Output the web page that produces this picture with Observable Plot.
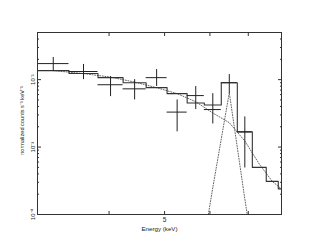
<!DOCTYPE html>
<html><head><meta charset="utf-8">
<script src="https://cdn.jsdelivr.net/npm/d3@7"></script>
<script src="https://cdn.jsdelivr.net/npm/@observablehq/plot@0.6"></script>
<style>body{margin:0;background:#fff}</style>
</head><body><div id="chart"></div>
<script>
// Energy bin edges (keV)
const edges = [3.0, 3.405, 3.826, 4.232, 4.643, 5.051, 5.475, 5.866, 6.280, 6.698, 7.115, 7.524, 7.897, 8.30];
// Total model (step histogram)
const model = [0.0136, 0.0123, 0.0107, 0.0090, 0.0076, 0.0062, 0.0045, 0.0042, 0.0090, 0.00168, 0.00050, 0.00031, 0.00024];
// Continuum component (dotted)
const continuum = [0.0136, 0.0123, 0.0109, 0.0092, 0.0076, 0.0062, 0.0047, 0.0032, 0.0023, 0.00123, 0.00056, 0.00031, 0.00022];
// Gaussian line component (dotted)
const gauss = [1e-9, 1e-9, 1e-9, 1e-9, 1e-9, 1e-7, 7.6e-6, 0.00025, 0.0064, 0.00017, 7e-6, 1e-8, 1e-9];
// Data points with error bars
const data  = [0.0173, 0.0132, 0.0084, 0.0073, 0.0107, 0.0033, 0.0058, 0.0036, 0.0090, 0.00168];
const errLo = [0.0132, 0.0100, 0.0056, 0.0050, 0.0079, 0.00168, 0.0036, 0.0022, 0.0062, 0.00049];
const errHi = [0.0213, 0.0168, 0.0111, 0.0100, 0.0141, 0.0050, 0.0079, 0.0062, 0.0119, 0.0028];
// Ticks
const xTicks = [4, 5, 6, 7];
const xLabels = [5];
const yMajor = [1e-4, 1e-3, 1e-2];
const yMinor = [2e-4,3e-4,4e-4,5e-4,6e-4,7e-4,8e-4,9e-4,2e-3,3e-3,4e-3,5e-3,6e-3,7e-3,8e-3,9e-3,2e-2,3e-2,4e-2,5e-2];
const xTitle = "Energy (keV)";
const yTitle = "normalized counts s⁻¹ keV⁻¹";

const centers = edges.slice(0, -1).map((e, i) => Math.sqrt(e * edges[i + 1]));
const bins = model.map((m, i) => ({xc: centers[i], cont: continuum[i], gauss: gauss[i]}));
const stepPts = edges.map((e, i) => ({x: e, y: model[Math.min(i, model.length - 1)]}));
const pts = data.map((v, i) => ({x1: edges[i], x2: edges[i + 1], xc: centers[i], y: v, lo: errLo[i], hi: errHi[i]}));

const sup = {"-": "⁻", "0": "⁰", "1": "¹", "2": "²", "3": "³", "4": "⁴", "5": "⁵"};
const fmt = d => "10" + String(Math.round(Math.log10(d))).split("").map(c => sup[c]).join("");
const font = "'Liberation Sans', Arial, sans-serif";
const ink = "#333";

const plot = Plot.plot({
  width: 319, height: 247,
  marginLeft: 37, marginRight: 38, marginTop: 32, marginBottom: 33,
  style: {fontFamily: font, background: "#fff", color: ink},
  x: {type: "log", domain: [3, 8], axis: null},
  y: {type: "log", domain: [1e-4, 0.05], axis: null},
  marks: [
    Plot.line(bins, {x: "xc", y: "gauss", stroke: "#666", strokeWidth: 1, strokeDasharray: "1,1.6", clip: true}),
    Plot.line(bins, {x: "xc", y: "cont", stroke: "#666", strokeWidth: 1, strokeDasharray: "1,1.6", clip: true}),
    Plot.line(stepPts, {x: "x", y: "y", curve: "step-after", stroke: ink, strokeWidth: 1.1, clip: true}),
    Plot.ruleX(pts, {x: "xc", y1: "lo", y2: "hi", stroke: "#222", strokeWidth: 1}),
    Plot.ruleY(pts, {y: "y", x1: "x1", x2: "x2", stroke: "#222", strokeWidth: 1}),
    Plot.frame({stroke: ink, strokeWidth: 1}),
    Plot.axisX(xTicks, {anchor: "bottom", tickSize: -3, tickFormat: () => "", label: null, stroke: ink}),
    Plot.axisX(xTicks, {anchor: "top", tickSize: -3, tickFormat: () => "", label: null, stroke: ink}),
    Plot.axisX(xLabels, {anchor: "bottom", tickSize: 0, tickPadding: 3, tickFormat: d => String(d), label: null, fontSize: 6.5, fill: "#222"}),
    Plot.axisY(yMajor, {anchor: "left", tickSize: -4, tickFormat: () => "", label: null, stroke: ink}),
    Plot.axisY(yMajor, {anchor: "right", tickSize: -4, tickFormat: () => "", label: null, stroke: ink}),
    Plot.axisY(yMinor, {anchor: "left", tickSize: -2, tickFormat: () => "", label: null, stroke: ink}),
    Plot.axisY(yMinor, {anchor: "right", tickSize: -2, tickFormat: () => "", label: null, stroke: ink}),
    Plot.text(yMajor, {y: d => d, frameAnchor: "left", dx: -3, rotate: -90, text: fmt, textAnchor: "middle", lineAnchor: "bottom", fontSize: 6, fill: "#222"}),
    Plot.text([xTitle], {frameAnchor: "bottom", dy: 12, text: d => d, textAnchor: "middle", lineAnchor: "top", fontSize: 6.2, fill: "#222"}),
    Plot.text([yTitle], {frameAnchor: "left", dx: -14, dy: -3, rotate: -90, text: d => d, textAnchor: "middle", lineAnchor: "bottom", fontSize: 5.6, fill: "#222"})
  ]
});
document.getElementById("chart").appendChild(plot);
</script>
</body></html>
